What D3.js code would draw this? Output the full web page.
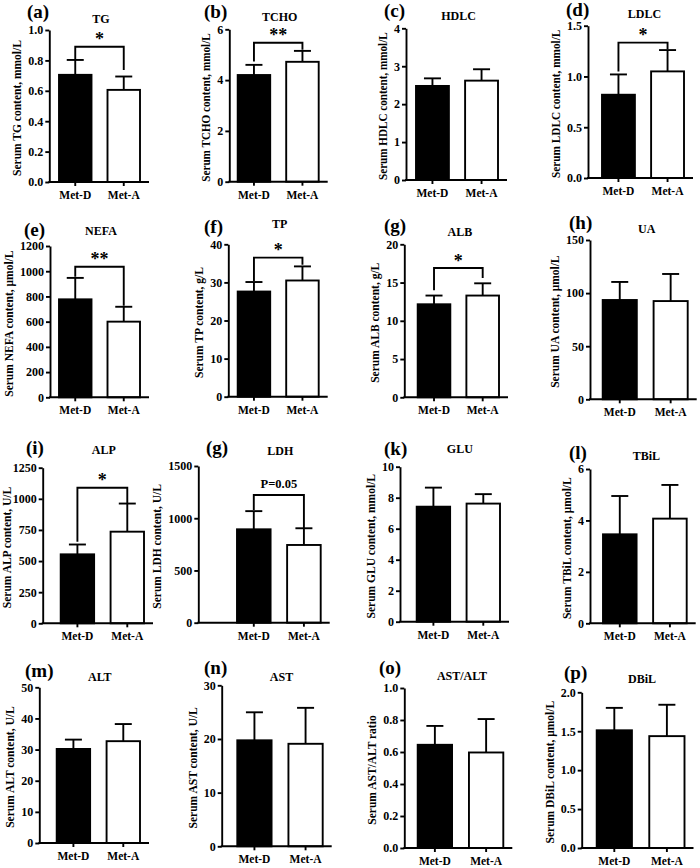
<!DOCTYPE html>
<html><head><meta charset="utf-8">
<script src="https://cdn.jsdelivr.net/npm/d3@7"></script>
<style>
body{margin:0;background:#fff}
svg{display:block}
text{font-family:"Liberation Serif","Times New Roman",serif;font-weight:bold;fill:#000}
</style>
</head><body>
<svg id="chart" width="700" height="868"></svg>
<script>
// ---------------- DATA ----------------
const groups = ["Met-D", "Met-A"];
const panelLetters = ["(a)","(b)","(c)","(d)","(e)","(f)","(g)","(h)","(i)","(g)","(k)","(l)","(m)","(n)","(o)","(p)"];
const titles = ["TG","TCHO","HDLC","LDLC","NEFA","TP","ALB","UA","ALP","LDH","GLU","TBiL","ALT","AST","AST/ALT","DBiL"];
const yLabels = [
  "Serum TG content, mmol/L","Serum TCHO content, mmol/L","Serum HDLC content, mmol/L","Serum LDLC content, mmol/L",
  "Serum NEFA content, μmol/L","Serum TP content, g/L","Serum ALB content, g/L","Serum UA content, μmol/L",
  "Serum ALP content, U/L","Serum LDH content, U/L","Serum GLU content, mmol/L","Serum TBiL content, μmol/L",
  "Serum ALT content, U/L","Serum AST content, U/L","Serum AST/ALT ratio","Serum DBiL content, μmol/L"
];
// mean values [Met-D, Met-A]
const means = [
  [0.705,0.606],[4.20,4.72],[2.48,2.62],[0.82,1.05],
  [777,600],[27.6,30.5],[12.16,13.3],[93.5,92.5],
  [554,736],[894,744],[7.42,7.62],[3.46,4.07],
  [30.2,32.7],[19.75,19.1],[0.645,0.597],[1.512,1.437]
];
// top of error bars [Met-D, Met-A]
const errTops = [
  [0.803,0.694],[4.60,5.15],[2.68,2.92],[1.02,1.26],
  [947,718],[30.1,34.2],[13.3,14.9],[110.5,118],
  [633,962],[1068,904],[8.65,8.23],[4.95,5.38],
  [33.2,38.2],[24.97,25.8],[0.763,0.806],[1.80,1.84]
];
const yMax = [1.0,6,4,1.5,1200,40,20,150,1250,1500,10,6,50,30,1.0,2.0];
const yTickValues = [
  [0,0.2,0.4,0.6,0.8,1.0],[0,2,4,6],[0,1,2,3,4],[0,0.5,1.0,1.5],
  [0,200,400,600,800,1000,1200],[0,10,20,30,40],[0,5,10,15,20],[0,50,100,150],
  [0,250,500,750,1000,1250],[0,500,1000,1500],[0,2,4,6,8,10],[0,2,4,6],
  [0,10,20,30,40,50],[0,10,20,30],[0,0.2,0.4,0.6,0.8,1.0],[0,0.5,1.0,1.5,2.0]
];
const yTickFormats = [".1f","d","d",".1f","d","d","d","d","d","d","d","d","d","d",".1f",".1f"];
// significance annotations
const sigLabels = ["*","**",null,"*","**","*","*",null,"*","P=0.05",null,null,null,null,null,null];
const bracketLevels = [0.89,5.47,null,1.333,1036,36.5,16.9,null,1089,1222,null,null,null,null,null,null];
const bracketLegEnds = [[0.807,0.737],[4.73,5.19],null,[1.048,1.267],[957,727],[30.4,34.6],[14.0,15.6],null,
  [656,962],[1079,903],null,null,null,null,null,null];

// ---------------- LAYOUT (positions only) ----------------
// [axisX, plotTop, plotBottom, firstBarLeft, lastBarRight, titleBaseline, letterX, letterBaseline]
const layout = [
  [49.3,30,182,59,140,22.5,27,17.5],
  [229.3,29.3,181.7,237.7,318.7,20.5,204,17.5],
  [406,28.3,180,416,498,20,384,16.5],
  [588,25.7,178,602,684,18.3,566,15.5],
  [50,246,397.3,59,140,235,24,235.5],
  [228.3,244.3,396.7,237.7,318.7,228.3,204,233],
  [404.3,244.3,397.3,417.7,499,235.7,384,232],
  [590,240,399.3,602.7,687.7,233.3,569,228.5],
  [42.7,467.7,623.3,60.7,144,454,26,454],
  [198.3,466,622.7,237,320.7,455,206,453.5],
  [400,466.7,621.7,416.7,500,453.3,384,455],
  [590,469,623.3,603,686.7,460,569,458.5],
  [39.3,687.3,843,56.7,140,681.3,25,676.5],
  [221.7,685.3,846.3,237.3,322.7,680.7,204,674],
  [404.3,688,848,417.7,503.3,679.7,379,674],
  [581.7,692.3,848,596.7,684.5,683,564,679]
];

const svg = d3.select("#chart");
const SW = 1.9;
const FONT = "'Liberation Serif','Times New Roman',serif";

titles.forEach((t, i) => {
  const [x0, top, bottom, bL, bR, titleY, letX, letY] = layout[i];
  const g = svg.append("g");
  const x = d3.scaleBand().domain(groups).range([bL, bR]).paddingInner(0.33).paddingOuter(0);
  const y = d3.scaleLinear().domain([0, yMax[i]]).range([bottom, top]);

  // bars
  g.selectAll("rect.bar").data(groups).join("rect")
    .attr("x", d => x(d)).attr("width", x.bandwidth())
    .attr("y", (d, j) => y(means[i][j]))
    .attr("height", (d, j) => y(0) - y(means[i][j]))
    .attr("fill", (d, j) => j === 0 ? "#000" : "#fff")
    .attr("stroke", "#000").attr("stroke-width", SW);

  // error bars (upper only)
  const capW = 17;
  groups.forEach((d, j) => {
    const cx = x(d) + x.bandwidth() / 2;
    g.append("line").attr("x1", cx).attr("x2", cx)
      .attr("y1", y(means[i][j])).attr("y2", y(errTops[i][j]))
      .attr("stroke", "#000").attr("stroke-width", SW);
    g.append("line").attr("x1", cx - capW / 2).attr("x2", cx + capW / 2)
      .attr("y1", y(errTops[i][j])).attr("y2", y(errTops[i][j]))
      .attr("stroke", "#000").attr("stroke-width", SW);
  });

  // y axis
  const yAxis = d3.axisLeft(y).tickValues(yTickValues[i]).tickFormat(d3.format(yTickFormats[i]))
    .tickSize(4).tickSizeOuter(0).tickPadding(2);
  const ya = g.append("g").attr("transform", `translate(${x0},0)`).call(yAxis);
  ya.select(".domain").attr("stroke-width", SW);
  ya.selectAll(".tick line").attr("stroke-width", SW);
  ya.selectAll(".tick text").attr("font-size", 12).style("font-family", FONT).style("font-weight", "bold");

  // x axis
  const xAxis = d3.axisBottom(x).tickSize(4).tickSizeOuter(0).tickPadding(4);
  const xa = g.append("g").attr("transform", `translate(0,${bottom})`).call(xAxis);
  xa.select(".domain").remove();
  xa.selectAll(".tick line").attr("stroke-width", SW);
  xa.selectAll(".tick text").attr("font-size", 11.5).attr("y", 17).attr("dy", 0)
    .style("font-family", FONT).style("font-weight", "bold");
  g.append("line").attr("x1", x0 - SW / 2).attr("x2", bR + 9)
    .attr("y1", bottom).attr("y2", bottom).attr("stroke", "#000").attr("stroke-width", SW);

  // y label (fitted to the plot height)
  const bb = ya.node().getBBox();
  const lx = Math.max(x0 + bb.x - 11, 7);
  const lab = g.append("text")
    .attr("transform", `translate(${lx},${(top + bottom) / 2 + 2}) rotate(-90)`)
    .attr("text-anchor", "middle").attr("dy", "0.35em").attr("font-size", 11.5)
    .text(yLabels[i]);
  const maxLen = (bottom - top) - 4;
  if (lab.node().getComputedTextLength() > maxLen) {
    lab.attr("textLength", maxLen).attr("lengthAdjust", "spacingAndGlyphs");
  }

  // title
  g.append("text").attr("x", (bL + bR) / 2 + 1.5).attr("y", titleY)
    .attr("text-anchor", "middle").attr("font-size", 12).text(t);

  // panel letter
  g.append("text").attr("x", letX).attr("y", letY).attr("font-size", 19).text(panelLetters[i]);

  // significance bracket
  if (sigLabels[i]) {
    const c1 = x(groups[0]) + x.bandwidth() / 2;
    const c2 = x(groups[1]) + x.bandwidth() / 2;
    const yl = y(bracketLevels[i]);
    g.append("path")
      .attr("d", `M${c1},${y(bracketLegEnds[i][0])}V${yl}H${c2}V${y(bracketLegEnds[i][1])}`)
      .attr("fill", "none").attr("stroke", "#000").attr("stroke-width", SW);
    const isStar = sigLabels[i].startsWith("*");
    g.append("text").attr("x", (c1 + c2) / 2).attr("y", yl + (isStar ? -1.5 : -7))
      .attr("text-anchor", "middle").attr("font-size", isStar ? 18 : 12.5)
      .text(sigLabels[i]);
  }
});
</script>
</body></html>
